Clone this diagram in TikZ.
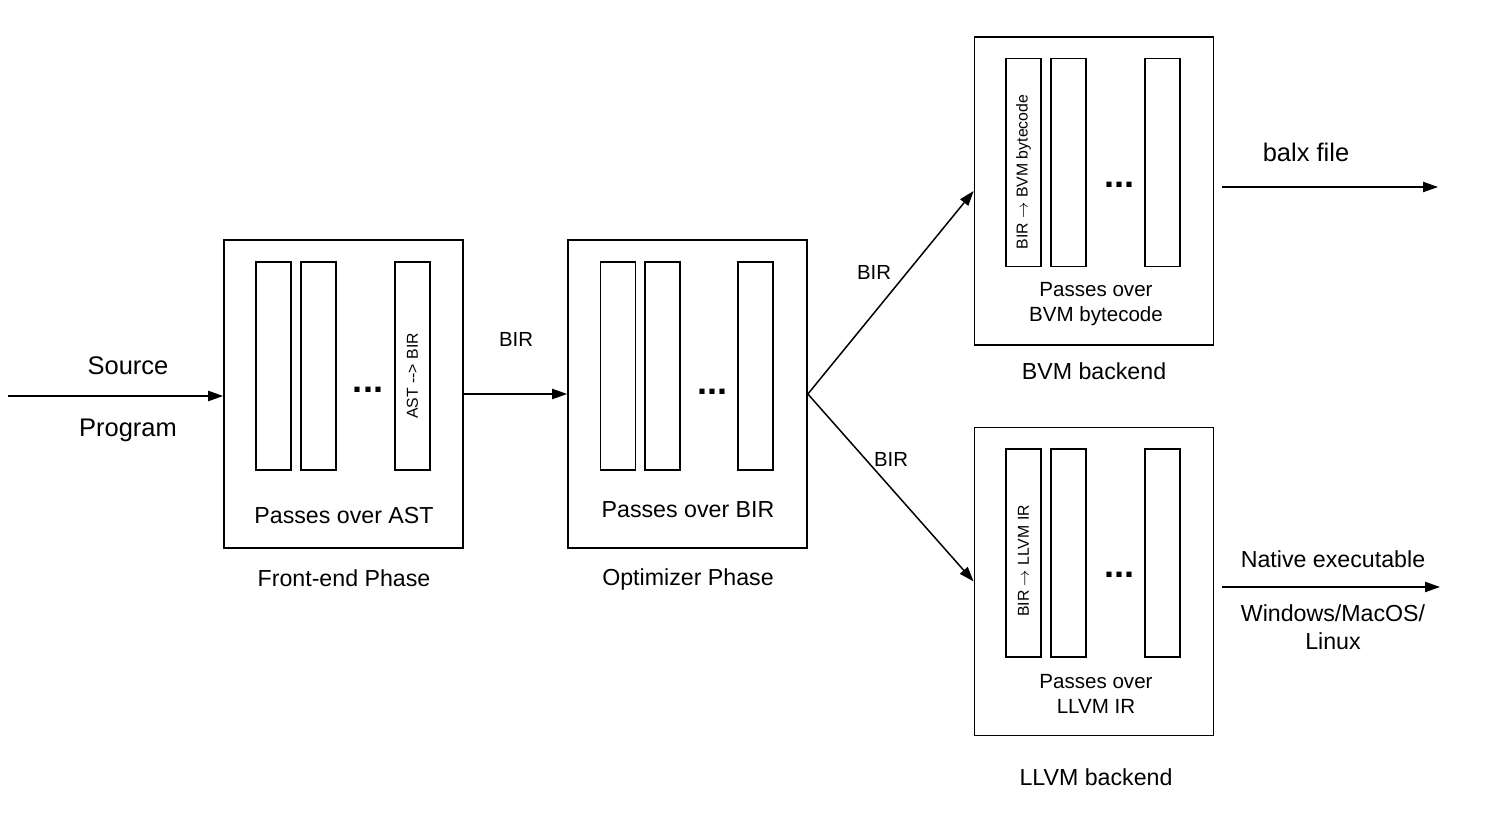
\documentclass[tikz,border=0pt]{standalone}
\usepackage{fontspec}
\setmainfont{Liberation Sans}
\usetikzlibrary{arrows.meta}
\tikzset{
    phase/.style={rectangle, draw, line width=1pt, minimum width=4.78cm, minimum height=6.16cm},
    pass/.style={rectangle, draw, line width=1pt, minimum width=0.7cm, minimum height=4.16cm},
    passtext/.style={rotate=90, inner sep=0pt, font=\fontsize{9}{11}\selectfont},
    dots/.style={inner sep=0pt, font=\fontsize{20.5}{22}\selectfont\bfseries},
    caption/.style={align=center, font=\fontsize{13.2}{16}\selectfont},
    inner/.style={align=center, font=\fontsize{11.7}{14.7}\selectfont},
    big/.style={font=\fontsize{14.5}{17}\selectfont},
    flow/.style={-{Triangle[length=8.5pt, width=5.8pt]}, line width=0.85pt}
}
\begin{document}
\begin{tikzpicture}[x=0.02cm, y=-0.02cm,
    edgelabel/.style={font=\fontsize{11.6}{14}\selectfont}
]
    \useasboundingbox (0,0) rectangle (1500,830);

    % Front-end phase
    \node[phase] (fe) at (343.5,394) {};
    \node[pass] (fe1) at (273.5,366) {};
    \node[pass] (fe2) at (318.5,366) {};
    \node[pass] (fe3) at (412.5,366) {};
    \node[passtext] (fe3t) at (412.5,376) {AST -{}-> BIR};
    \node[dots] (fedots) at (368,390) {...};
    \node[caption] (fetext) at (344,516) {Passes over AST};
    \node[caption] (fename) at (344,578) {Front-end Phase};

    % Optimizer phase
    \node[phase] (opt) at (687.5,394) {};
    \node[pass] (opt1) at (618,366) {};
    \node[pass] (opt2) at (662.5,366) {};
    \node[pass] (opt3) at (755.5,366) {};
    \node[dots] (optdots) at (712,392) {...};
    \node[caption] (opttext) at (688,510) {Passes over BIR};
    \node[caption] (optname) at (688,580) {Optimizer Phase};

    % BVM backend
    \node[phase] (bvm) at (1094,191) {};
    \node[pass] (bvm1) at (1023.5,162.5) {};
    \node[pass] (bvm2) at (1068.5,162.5) {};
    \node[pass] (bvm3) at (1162.5,162.5) {};
    \node[passtext] (bvm1t) at (1023.5,172) {BIR $\rightarrow$ BVM bytecode};
    \node[dots] (bvmdots) at (1119,185) {...};
    \node[inner] (bvmtext) at (1096,304) {Passes over\\BVM bytecode};
    \node[caption] (bvmname) at (1094,371) {BVM backend};

    % LLVM backend
    \node[phase] (llvm) at (1094,581.5) {};
    \node[pass] (llvm1) at (1023.5,553) {};
    \node[pass] (llvm2) at (1068.5,553) {};
    \node[pass] (llvm3) at (1162.5,553) {};
    \node[passtext] (llvm1t) at (1023.5,561) {BIR $\rightarrow$ LLVM IR};
    \node[dots] (llvmdots) at (1119,575) {...};
    \node[inner] (llvmtext) at (1096,694) {Passes over\\LLVM IR};
    \node[caption] (llvmname) at (1096,777) {LLVM backend};

    % Inputs and outputs
    \coordinate (src) at (8,396);
    \coordinate (balxstart) at (1222,187);
    \coordinate (balxend) at (1438,187);
    \coordinate (nativestart) at (1222,587);
    \coordinate (nativeend) at (1440,587);
    \node[big] (srctop) at (128,366) {Source};
    \node[big] (srcbot) at (128,430) {Program};
    \node[big] (balx) at (1306,152) {balx file};
    \node[caption] (native) at (1333,559) {Native executable};
    \node[caption] (os) at (1333,627) {Windows/MacOS/\\Linux};

    % Links
    \draw[flow] (src) -- (src -| fe.west);
    \draw[flow] (fe.east) -- (opt.west);
    \draw[flow] (opt.east) -- (bvm.west);
    \draw[flow] (opt.east) -- (llvm.west);
    \draw[flow] (balxstart) -- (balxend);
    \draw[flow] (nativestart) -- (nativeend);

    % Link labels
    \node[edgelabel] (bir1) at (516,339) {BIR};
    \node[edgelabel] (bir2) at (874,272) {BIR};
    \node[edgelabel] (bir3) at (891,459) {BIR};
\end{tikzpicture}
\end{document}
